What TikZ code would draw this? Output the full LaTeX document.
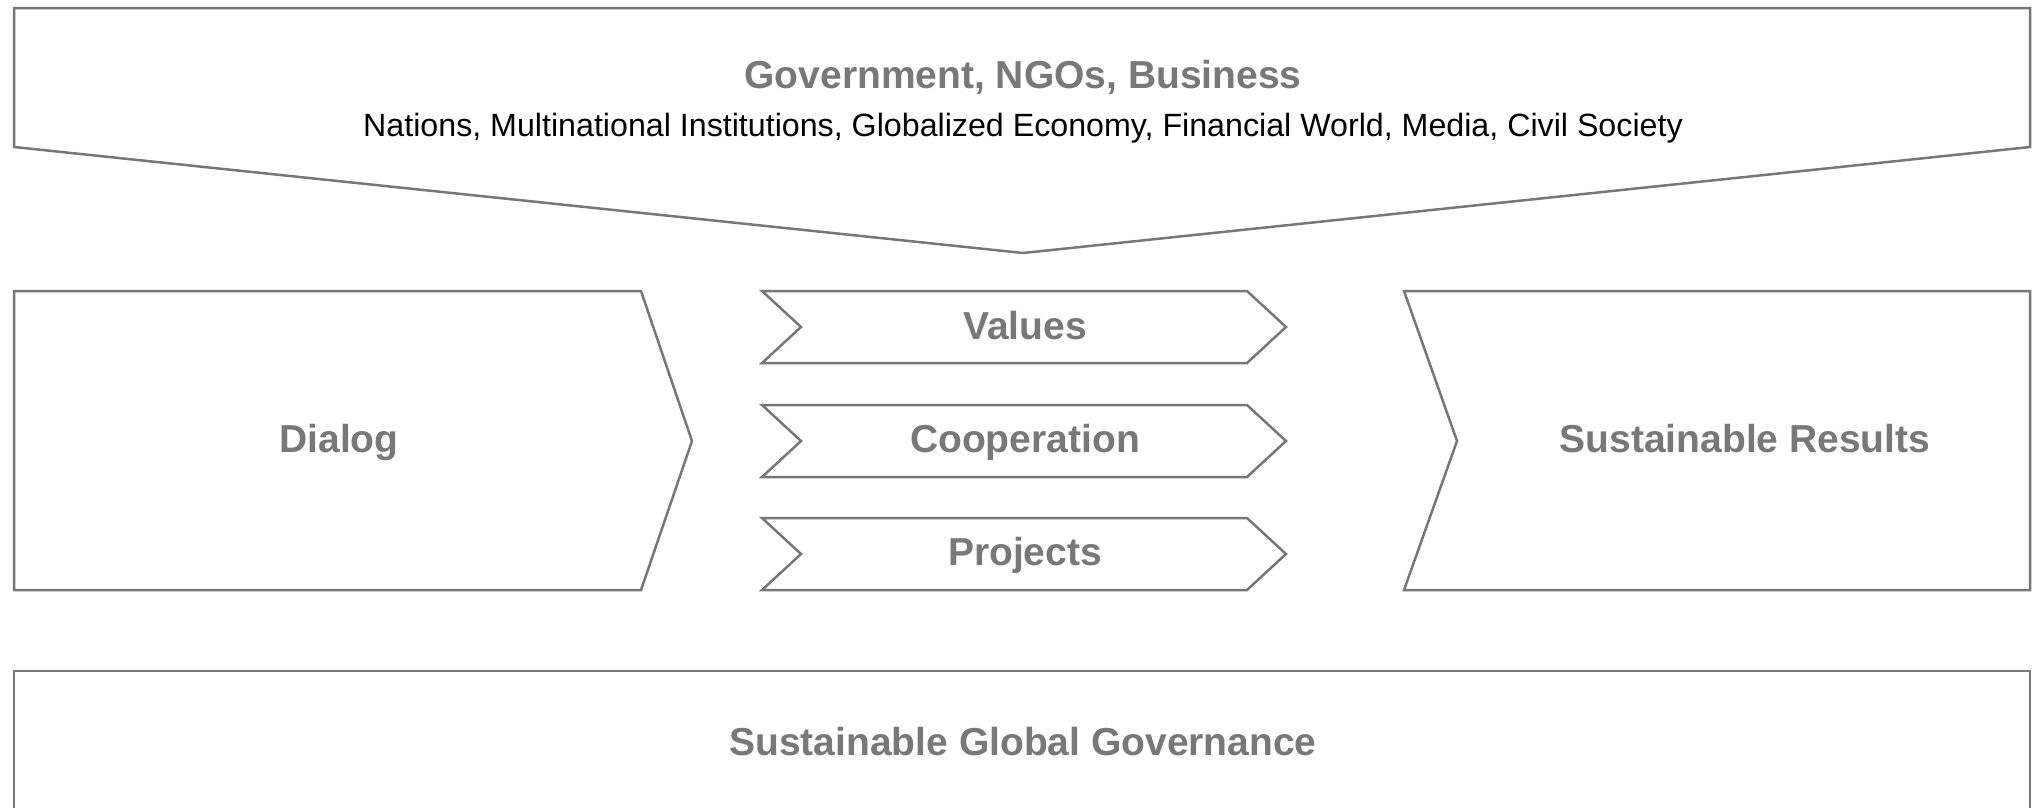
\documentclass[tikz,border=0pt]{standalone}
\usepackage{fontspec}
\setmainfont{Liberation Sans}
\definecolor{linegray}{HTML}{777777}
\definecolor{textgray}{HTML}{787878}
\tikzset{
  shapeline/.style={draw=linegray, line width=2.5pt, line join=miter, fill=white},
  boldlabel/.style={text=textgray, font=\fontsize{39}{46}\selectfont\bfseries, inner sep=0pt, anchor=base},
  sublabel/.style={text=black, font=\fontsize{32.2}{39}\selectfont, inner sep=0pt, anchor=base}
}
\begin{document}
\begin{tikzpicture}[x=1pt, y=-1pt]
\useasboundingbox (0,0) rectangle (2035,807);
\clip (0,0) rectangle (2035,807);
% top funnel
\draw[shapeline] (14,8) -- (2030,8) -- (2030,147) -- (1023,253) -- (14,147) -- cycle;
\node[boldlabel] (top) at (1023,88) {Government, NGOs, Business};
\node[sublabel] (sub) at (1023,136) {Nations, Multinational Institutions, Globalized Economy, Financial World, Media, Civil Society};
% dialog
\draw[shapeline] (14,291) -- (641,291) -- (692,441) -- (641,590) -- (14,590) -- cycle;
\node[boldlabel] (dialog) at (339,452) {Dialog};
% chevrons
\draw[shapeline] (762,291) -- (1247,291) -- (1286,327) -- (1247,363) -- (762,363) -- (801,327) -- cycle;
\node[boldlabel] (values) at (1025,339) {Values};
\draw[shapeline] (762,405) -- (1247,405) -- (1286,441) -- (1247,477) -- (762,477) -- (801,441) -- cycle;
\node[boldlabel] (coop) at (1025,452) {Cooperation};
\draw[shapeline] (762,518) -- (1247,518) -- (1286,554) -- (1247,590) -- (762,590) -- (801,554) -- cycle;
\node[boldlabel] (proj) at (1025,565) {Projects};
% results
\draw[shapeline] (1404,291) -- (2030,291) -- (2030,590) -- (1404,590) -- (1457,441) -- cycle;
\node[boldlabel] (results) at (1745,452) {Sustainable Results};
% bottom box
\draw[shapeline] (14,820) -- (14,671) -- (2030,671) -- (2030,820);
\node[boldlabel] (sgg) at (1023,755) {Sustainable Global Governance};
\end{tikzpicture}
\end{document}
